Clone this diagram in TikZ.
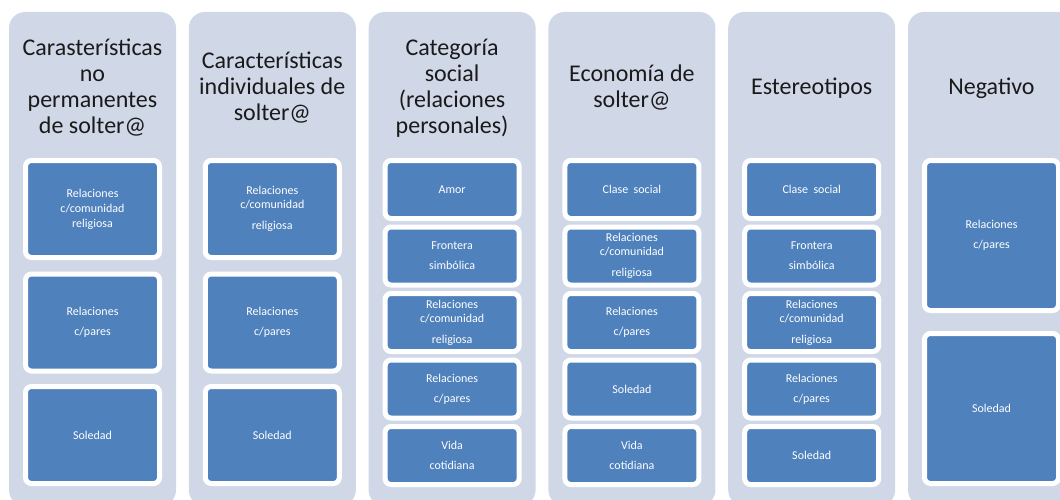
\documentclass[tikz,border=0pt]{standalone}
\usepackage{fontspec}
\setmainfont{Carlito}
\definecolor{colbg}{HTML}{D0D8E8}
\definecolor{boxblue}{HTML}{4F81BD}
\definecolor{titletext}{HTML}{1A1A1A}
\begin{document}
\begin{tikzpicture}[x=1pt,y=-1pt,
  colbox/.style={fill=colbg, draw=none, rounded corners=16pt, minimum width=167pt, minimum height=494pt, inner sep=0pt},
  title/.style={font=\fontsize{24}{26}\selectfont, align=center, text=titletext, inner sep=0pt},
  item/.style={fill=boxblue, draw=white, line width=5pt, rounded corners=6pt, minimum width=134pt, text=white, font=\fontsize{12}{14}\selectfont, align=center, inner sep=0pt},
  hthree/.style={item, minimum height=97pt},
  hfive/.style={item, minimum height=58pt},
  htwo/.style={item, minimum height=150pt}]
\useasboundingbox (0,0) rectangle (1060,500);
\clip (0,0) rectangle (1060,500);
% columns
\foreach \i/\x in {1/92.5,2/272.3,3/452.1,4/631.9,5/811.7,6/991.5}{
  \node[colbox] (c\i) at (\x,259) {};
}
% titles
\node[title] (t1) at (92.5,88) {Carasterísticas\\no\\permanentes\\de solter@};
\node[title] (t2) at (272.3,88) {Características\\individuales de\\solter@};
\node[title] (t3) at (452.1,88) {Categoría\\social\\(relaciones\\personales)};
\node[title] (t4) at (631.9,88) {Economía de\\solter@};
\node[title] (t5) at (811.7,88) {Estereotipos};
\node[title] (t6) at (991.5,88) {Negativo};
% column 1
\node[hthree] (a1) at (92.5,209) {Relaciones\\[1pt]c/comunidad\\[1pt]religiosa};
\node[hthree] (a2) at (92.5,322.5) {Relaciones\\[6pt]c/pares};
\node[hthree] (a3) at (92.5,435) {Soledad};
% column 2
\node[hthree] (b1) at (272.3,209) {Relaciones\\c/comunidad\\[7pt]religiosa};
\node[hthree] (b2) at (272.3,322.5) {Relaciones\\[6pt]c/pares};
\node[hthree] (b3) at (272.3,435) {Soledad};
% column 3
\node[hfive] (d1) at (452.1,189.5) {Amor};
\node[hfive] (d2) at (452.1,256) {Frontera\\[6pt]simbólica};
\node[hfive] (d3) at (452.1,322.5) {Relaciones\\c/comunidad\\[7pt]religiosa};
\node[hfive] (d4) at (452.1,389) {Relaciones\\[6pt]c/pares};
\node[hfive] (d5) at (452.1,455.5) {Vida\\[6pt]cotidiana};
% column 4
\node[hfive] (e1) at (631.9,189.5) {Clase\ \ social};
\node[hfive] (e2) at (631.9,256) {Relaciones\\c/comunidad\\[7pt]religiosa};
\node[hfive] (e3) at (631.9,322.5) {Relaciones\\[6pt]c/pares};
\node[hfive] (e4) at (631.9,389) {Soledad};
\node[hfive] (e5) at (631.9,455.5) {Vida\\[6pt]cotidiana};
% column 5
\node[hfive] (f1) at (811.7,189.5) {Clase\ \ social};
\node[hfive] (f2) at (811.7,256) {Frontera\\[6pt]simbólica};
\node[hfive] (f3) at (811.7,322.5) {Relaciones\\c/comunidad\\[7pt]religiosa};
\node[hfive] (f4) at (811.7,389) {Relaciones\\[6pt]c/pares};
\node[hfive] (f5) at (811.7,455.5) {Soledad};
% column 6
\node[htwo] (g1) at (991.5,235.5) {Relaciones\\[6pt]c/pares};
\node[htwo] (g2) at (991.5,408.5) {Soledad};
\end{tikzpicture}
\end{document}
